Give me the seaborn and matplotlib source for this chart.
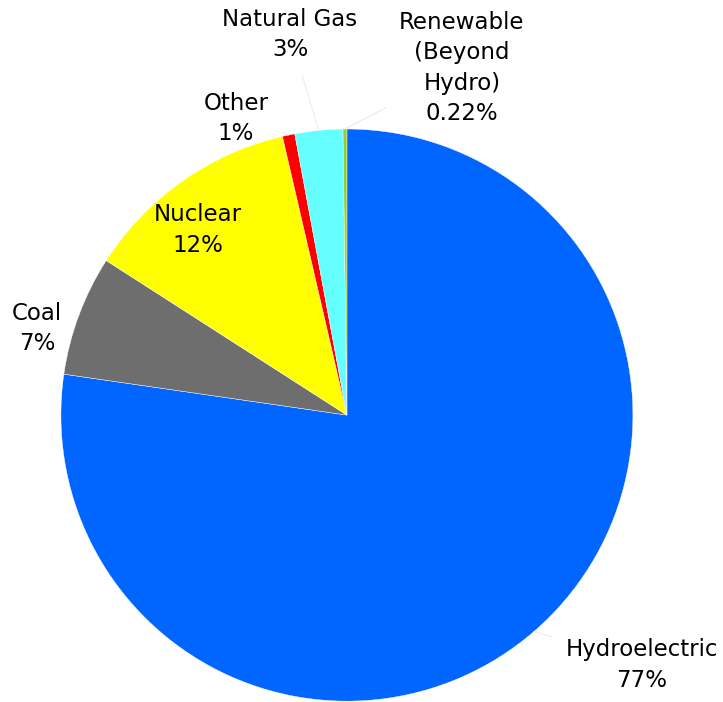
import numpy as np
import matplotlib
matplotlib.use('Agg')
import matplotlib.pyplot as plt
import seaborn as sns

# ============================================
# DONNÉES
# ============================================
sources = ['Hydroelectric', 'Coal', 'Nuclear', 'Other', 'Natural Gas', 'Renewable\n(Beyond\nHydro)']
shares = [77.3, 6.8, 12.3, 0.7, 2.7, 0.22]
pct_labels = ['77%', '7%', '12%', '1%', '3%', '0.22%']
colors = ['#0066FF', '#6E6E6E', '#FFFF00', '#FF0000', '#66FFFF', '#99CC33']

# positions des étiquettes (rayon = 1)
label_pos = [(1.031, -0.874), (-1.084, 0.304), (-0.521, 0.647),
             (-0.388, 1.038), (-0.199, 1.329), (0.402, 1.213)]

# ============================================
# FIGURE
# ============================================
sns.set_theme(style='white')
plt.rcParams['font.family'] = ['DejaVu Sans']

fig = plt.figure(figsize=(7.23, 7.02), dpi=100)
ax = fig.add_axes([0, 0, 1, 1])

wedges, _ = ax.pie(shares, colors=colors, startangle=90, counterclock=False,
                   radius=1.0, wedgeprops=dict(edgecolor='white', linewidth=0.3))

for i, w in enumerate(wedges):
    ang = np.deg2rad((w.theta1 + w.theta2) / 2)
    tx, ty = label_pos[i]
    txt = f'{sources[i]}\n{pct_labels[i]}'
    if i == 2:
        ax.text(tx, ty, txt, ha='center', va='center', fontsize=16.5,
                linespacing=1.4, color='black')
    else:
        ax.annotate(txt, xy=(np.cos(ang), np.sin(ang)), xytext=(tx, ty),
                    ha='center', va='center', fontsize=16.5, linespacing=1.4,
                    color='black',
                    arrowprops=dict(arrowstyle='-', color='#ececec', lw=0.8,
                                    shrinkA=8, shrinkB=0))

ax.set_xlim(-1.213, 1.315)
ax.set_ylim(-1.003, 1.451)
ax.set_aspect('auto')
ax.axis('off')

fig.savefig('out.png', dpi=100, facecolor='white')
